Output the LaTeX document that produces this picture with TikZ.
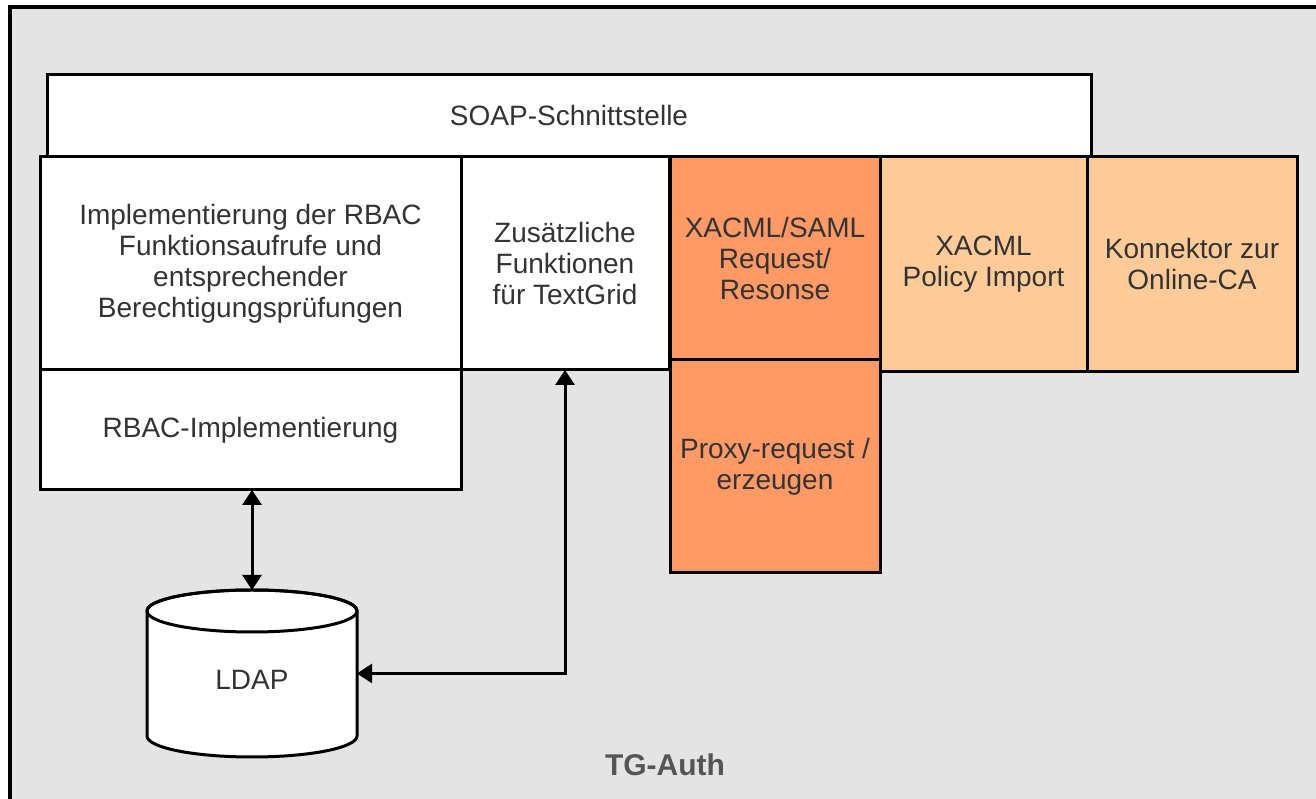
\documentclass[tikz,border=0pt]{standalone}
\usepackage{fontspec}
\setmainfont{Liberation Sans}
\usepackage{tikz}
\usetikzlibrary{positioning}
\usetikzlibrary{arrows.meta, calc}
\definecolor{framegray}{HTML}{E4E4E4}
\definecolor{txtgray}{HTML}{333333}
\definecolor{labelgray}{HTML}{555555}
\definecolor{darkorange}{HTML}{FF9966}
\definecolor{lightorange}{HTML}{FFCC99}
\tikzstyle{arrow} = [line width=3pt, {Triangle[length=15pt,width=19pt]}-{Triangle[length=15pt,width=19pt]}]
\tikzstyle{box} = [draw, line width=3pt, fill=white, outer sep=0pt, inner sep=0pt, text=txtgray, align=center, font=\fontsize{28}{31}\selectfont]

\begin{document}
\begin{tikzpicture}[x=1pt, y=1pt]
  \useasboundingbox (0,0) rectangle (1316,799);
  % outer frame
  \draw[line width=4pt, fill=framegray] (10,792) rectangle (1340,-20);

  % first row
  \node[box, anchor=north west, minimum width=421pt, minimum height=213pt] (RBACFunc) at (40,642)
    {Implementierung der RBAC\\Funktionsaufrufe und\\entsprechender\\Berechtigungsprüfungen};
  \node[box, below=0pt of RBACFunc, minimum width=421pt, minimum height=120pt] (RBAC) {RBAC-Implementierung};
  \node[box, below right=0pt and 0pt of RBACFunc.north east, minimum width=208pt, minimum height=213pt] (TextGrid)
    {Zusätzliche\\Funktionen\\für TextGrid};
  \node[box, fill=darkorange, below right=0pt and 1pt of TextGrid.north east, minimum width=210pt, minimum height=203pt] (XACMLReq)
    {XACML/SAML\\Request/\\Resonse};
  \node[box, fill=darkorange, below=0pt of XACMLReq, minimum width=210pt, minimum height=213pt] (Proxy)
    {Proxy-request /\\erzeugen};
  \node[box, fill=lightorange, below right=0pt and 0pt of XACMLReq.north east, minimum width=207pt, minimum height=215pt] (PolicyImport)
    {XACML\\Policy Import};
  \node[box, fill=lightorange, below right=0pt and 0pt of PolicyImport.north east, minimum width=210pt, minimum height=215pt] (OnlineCA)
    {Konnektor zur\\Online-CA};

  % interface on top
  \node[box, above right=0pt and 7pt of RBACFunc.north west, minimum width=1044pt, minimum height=82pt] (SOAP) {SOAP-Schnittstelle};

  % LDAP store
  \coordinate (LDAPc) at (252,125.5);
  \draw[line width=3pt, fill=white] ($(LDAPc)+(-105,62.5)$) -- ($(LDAPc)+(-105,-62.5)$)
    arc[start angle=180, end angle=360, x radius=105, y radius=21] -- ($(LDAPc)+(105,62.5)$)
    arc[start angle=0, end angle=180, x radius=105, y radius=21] -- cycle;
  \draw[line width=3pt] ($(LDAPc)+(0,62.5)$) ellipse[x radius=105, y radius=21];
  \node[text=txtgray, font=\fontsize{28}{31}\selectfont, minimum width=210pt, minimum height=167pt,
    text height=33pt, text depth=0pt, inner sep=0pt, outer sep=0pt] (LDAP) at (LDAPc) {LDAP};

  % connectors
  \draw[arrow] (LDAP.north |- RBAC.south) -- (LDAP.north);
  \draw[arrow] (LDAP.east) -| (TextGrid.south);

  % label
  \node[text=labelgray, font=\fontsize{30}{34}\selectfont\bfseries] (TGAuth) at (665,34) {TG-Auth};
\end{tikzpicture}
\end{document}
